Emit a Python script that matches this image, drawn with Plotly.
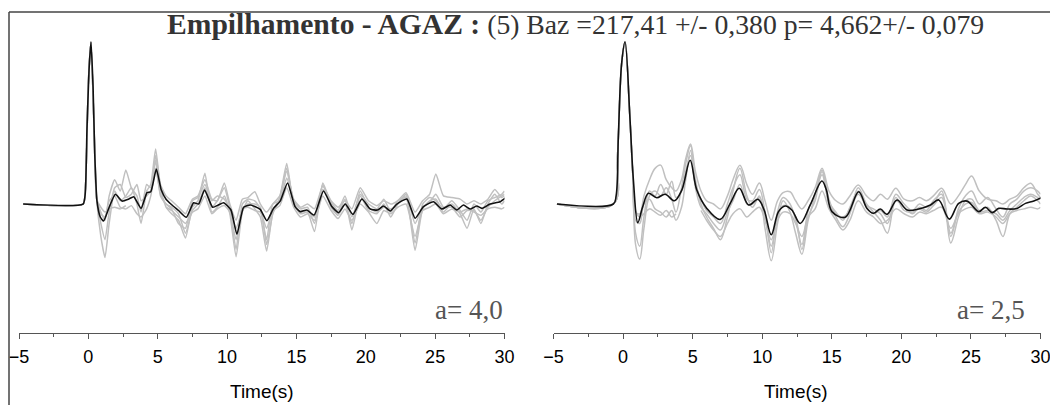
import plotly.graph_objects as go

# ---------------- data ----------------
# Left panel (a = 4.0) stacked receiver function (black)
t_left_stack = [-4.7, -0.38, -0.22, -0.1, 0.05, 0.19, 0.34, 0.46, 0.62, 0.86,
                1.1, 1.5, 1.95, 2.43, 2.9, 3.27, 3.8, 4.23, 4.5, 4.9,
                5.26, 5.6, 6.03, 6.5, 7.06, 7.59, 7.95, 8.38, 8.96, 9.4,
                9.75, 10.28, 10.71, 11.19, 11.67, 12.0, 12.39, 12.87, 13.35, 13.83,
                14.36, 14.9, 15.27, 15.75, 16.28, 16.95, 17.55, 18.04, 18.52, 19.07,
                19.72, 20.32, 20.85, 21.28, 21.76, 22.24, 22.96, 23.56, 24.16, 24.88,
                25.48, 26.08, 26.56, 27.04, 27.52, 28.0, 28.37, 28.96, 29.68, 30.1]
a_left_stack = [0, 0, 0.07, 0.46, 0.83, 1.0, 0.72, 0.31, 0.02, -0.08,
                -0.105, -0.02, 0.06, 0.018, 0.03, 0.045, -0.027, 0.07, 0.076, 0.216,
                0.086, 0.03, -0.006, -0.04, -0.082, 0.008, 0.0, 0.086, -0.02, -0.005,
                0.008, -0.037, -0.187, -0.02, -0.006, -0.015, -0.033, -0.103, -0.027, 0.018,
                0.13, -0.016, -0.047, -0.037, -0.068, 0.08, -0.016, -0.053, 0.0, -0.064,
                0.031, -0.031, -0.037, -0.012, -0.043, 0.0, 0.031, -0.088, -0.016, 0.014,
                -0.031, -0.006, -0.037, -0.006, -0.031, -0.012, -0.027, 0.0, 0.014, 0.04]

# Right panel (a = 2.5) stacked receiver function (black)
t_right_stack = [-4.75, -0.7, -0.5, -0.34, -0.1, 0.14, 0.5, 0.74, 1.06, 1.4,
                 1.82, 2.42, 3.02, 3.69, 4.22, 4.82, 5.3, 6.02, 6.98, 7.7,
                 8.35, 9.02, 9.69, 10.14, 10.65, 11.17, 11.65, 12.13, 12.73, 13.45,
                 14.29, 14.6, 15.01, 15.97, 16.93, 17.53, 18.0, 18.49, 18.97, 19.69,
                 20.41, 21.24, 22.09, 22.68, 23.45, 24.12, 24.73, 25.56, 26.04, 26.53,
                 27.0, 27.6, 28.32, 28.92, 29.52, 30.07]
a_right_stack = [0, 0, 0.05, 0.415, 0.87, 1.0, 0.52, 0.15, -0.115, -0.02,
                 0.066, 0.039, 0.06, 0.02, 0.086, 0.27, 0.086, -0.027, -0.095, 0.004,
                 0.097, -0.006, 0.029, -0.037, -0.19, -0.047, -0.012, -0.037, -0.12, -0.006,
                 0.142, 0.09, -0.047, -0.082, 0.076, -0.027, -0.057, -0.031, -0.064, 0.025,
                 -0.037, -0.031, -0.006, 0.025, -0.093, 0.004, 0.018, -0.047, -0.02, -0.053,
                 -0.027, -0.031, -0.027, 0.004, 0.018, 0.039]

# Individual receiver functions (grey): shared pre-peak part + post-peak samples
t_left_pre = [-4.7, -0.38, -0.2, 0.0, 0.19, 0.4, 0.6]
a_left_pre = [0, 0, 0.12, 0.75, 1.0, 0.5, 0.03]
t_right_pre = [-4.75, -0.7, -0.4, -0.1, 0.15, 0.45, 0.7]
a_right_pre = [0, 0, 0.3, 0.87, 1.0, 0.6, 0.18]

t_post = [0.9, 1.2, 1.5, 1.9, 2.3, 2.7, 3.1, 3.5, 3.8, 4.2,
          4.5, 4.85, 5.2, 5.6, 6.0, 6.5, 7.0, 7.5, 7.9, 8.4,
          8.9, 9.3, 9.8, 10.2, 10.65, 11.1, 11.5, 12.0, 12.4, 12.85,
          13.3, 13.8, 14.3, 14.8, 15.3, 15.8, 16.3, 16.9, 17.5, 18.0,
          18.5, 19.0, 19.6, 20.2, 20.8, 21.3, 21.8, 22.3, 22.9, 23.55,
          24.1, 24.6, 25.05, 25.6, 26.2, 26.8, 27.3, 27.8, 28.3, 28.8,
          29.3, 29.8, 30.0]

left_rf1 = [-0.20, -0.33, -0.12, 0.08, 0.02, 0.05, 0.10, 0.0, -0.12, 0.08,
            0.12, 0.34, 0.10, -0.02, -0.06, -0.10, -0.21, -0.02, 0.02, 0.19,
            -0.05, -0.02, 0.05, -0.06, -0.325, -0.05, 0.02, -0.03, -0.08, -0.29,
            -0.05, 0.04, 0.25, 0.0, -0.06, -0.05, -0.17, 0.13, 0.0, -0.06,
            0.03, -0.16, 0.05, -0.04, -0.06, 0.0, -0.08, 0.0, 0.05, -0.285,
            -0.03, 0.02, 0.03, -0.05, 0.0, -0.06, -0.15, -0.03, -0.12, 0.0,
            0.06, 0.0, 0.02]
left_rf2 = [-0.05, -0.10, 0.05, 0.15, 0.08, 0.21, 0.10, 0.05, -0.05, 0.12,
            0.10, 0.30, 0.12, 0.05, 0.02, -0.02, -0.06, 0.03, 0.05, 0.15,
            0.03, 0.02, 0.13, 0.0, -0.10, 0.03, 0.04, 0.076, 0.0, -0.05,
            0.0, 0.05, 0.20, 0.03, -0.02, 0.0, -0.03, 0.11, 0.02, -0.02,
            0.02, -0.03, 0.10, 0.02, -0.01, 0.02, 0.0, 0.02, 0.07, -0.05,
            0.02, 0.06, 0.185, 0.05, 0.04, 0.03, 0.0, 0.02, 0.0, 0.03,
            0.09, 0.04, 0.05]
left_rf3 = [-0.02, -0.05, -0.03, -0.02, -0.03, -0.01, None, None, None, None,
            None, None, None, -0.02, -0.04, -0.08, -0.12, -0.05, -0.03, 0.05,
            -0.06, -0.03, -0.01, -0.05, -0.22, -0.03, -0.02, -0.04, -0.05, -0.15,
            -0.04, -0.01, 0.10, -0.02, -0.08, -0.06, -0.10, 0.05, -0.04, -0.09,
            -0.03, -0.10, 0.0, -0.05, -0.12, -0.04, -0.06, -0.02, 0.0, -0.20,
            -0.04, -0.02, 0.0, -0.06, -0.03, -0.05, -0.03, -0.05, -0.07, -0.03,
            -0.02, -0.03, -0.02]
left_rf4 = [-0.12, -0.22, -0.05, 0.10, 0.12, 0.04, 0.06, 0.12, 0.02, 0.05,
            0.08, 0.27, 0.05, 0.0, -0.03, -0.12, -0.15, 0.02, 0.04, 0.12,
            0.02, 0.05, 0.03, -0.04, -0.28, 0.0, 0.03, 0.02, -0.03, -0.22,
            0.0, 0.02, 0.16, 0.02, -0.03, -0.02, -0.12, 0.09, 0.01, -0.04,
            0.05, -0.08, 0.06, 0.0, -0.03, 0.03, -0.05, 0.02, 0.04, -0.24,
            0.0, 0.04, 0.02, -0.03, 0.02, -0.04, -0.10, 0.0, -0.05, 0.02,
            0.04, 0.06, 0.08]
left_rf5 = [-0.06, -0.08, 0.02, 0.05, -0.02, -0.03, -0.01, -0.06, -0.08, -0.03,
            0.05, 0.22, 0.06, 0.0, -0.02, -0.06, -0.18, -0.04, 0.0, 0.10,
            -0.02, 0.02, 0.10, -0.02, -0.15, -0.04, 0.0, 0.0, -0.02, -0.25,
            -0.06, 0.03, 0.22, 0.01, -0.05, -0.04, -0.08, 0.12, -0.02, -0.07,
            0.0, -0.12, 0.08, -0.02, -0.05, -0.02, -0.03, 0.0, 0.06, -0.12,
            -0.02, 0.01, 0.06, -0.02, -0.02, -0.08, -0.04, -0.04, -0.10, -0.02,
            0.02, 0.05, 0.06]

right_rf1 = [-0.25, -0.34, -0.15, 0.05, 0.08, 0.05, 0.10, 0.03, -0.05, 0.10,
             0.25, 0.36, 0.15, 0.0, -0.08, -0.15, -0.22, -0.08, 0.08, 0.22,
             0.05, -0.02, 0.05, -0.15, -0.35, -0.12, 0.02, -0.05, -0.18, -0.31,
             -0.10, 0.05, 0.21, 0.03, -0.08, -0.14, -0.06, 0.10, 0.0, -0.05,
             -0.10, -0.18, 0.02, -0.02, -0.06, -0.02, -0.04, 0.02, 0.06, -0.24,
             -0.08, 0.02, 0.03, -0.04, -0.02, -0.10, -0.20, -0.06, -0.02, 0.02,
             0.05, 0.02, 0.0]
right_rf2 = [-0.05, -0.06, 0.05, 0.15, 0.22, 0.24, 0.15, 0.10, 0.08, 0.15,
             0.28, 0.37, 0.20, 0.08, 0.02, 0.0, -0.03, 0.05, 0.15, 0.24,
             0.12, 0.06, 0.13, 0.02, -0.10, 0.02, 0.07, 0.076, 0.02, -0.03,
             0.02, 0.10, 0.22, 0.08, 0.02, 0.0, 0.05, 0.117, 0.05, 0.02,
             0.06, 0.03, 0.097, 0.03, 0.02, 0.04, 0.02, 0.05, 0.097, 0.0,
             0.05, 0.12, 0.173, 0.08, 0.03, 0.02, 0.0, 0.03, 0.05, 0.10,
             0.128, 0.06, 0.04]
right_rf3 = [-0.04, -0.08, -0.06, -0.03, -0.05, -0.07, -0.04, -0.08, -0.06, None,
             None, None, None, -0.04, -0.10, -0.16, -0.20, -0.12, -0.06, -0.03,
             -0.08, -0.05, -0.02, -0.10, -0.22, -0.10, -0.05, -0.06, -0.12, -0.20,
             -0.08, -0.03, 0.08, -0.03, -0.10, -0.16, -0.10, 0.02, -0.05, -0.08,
             -0.12, -0.10, -0.03, -0.06, -0.08, -0.05, -0.06, -0.04, -0.02, -0.15,
             -0.06, -0.03, -0.02, -0.06, -0.05, -0.08, -0.12, -0.06, -0.04, -0.03,
             -0.02, -0.03, -0.02]
right_rf4 = [-0.18, -0.26, -0.08, 0.08, 0.05, 0.12, 0.06, 0.14, 0.04, 0.08,
             0.20, 0.30, 0.12, 0.03, -0.04, -0.08, -0.12, 0.0, 0.10, 0.18,
             0.03, 0.02, 0.09, -0.05, -0.30, -0.05, 0.04, 0.0, -0.10, -0.25,
             -0.04, 0.06, 0.18, 0.01, -0.05, -0.10, -0.02, 0.08, -0.02, -0.06,
             -0.04, -0.08, 0.06, 0.0, -0.04, 0.0, -0.02, 0.0, 0.08, -0.20,
             -0.03, 0.05, 0.08, 0.0, 0.04, -0.03, -0.08, 0.0, 0.03, 0.08,
             0.10, 0.08, 0.06]
right_rf5 = [-0.10, -0.12, 0.0, 0.03, -0.03, -0.05, -0.08, -0.04, -0.10, -0.02,
             0.15, 0.33, 0.10, -0.02, -0.06, -0.12, -0.16, -0.05, 0.02, 0.12,
             0.0, 0.0, 0.04, -0.08, -0.26, -0.08, -0.01, -0.02, -0.08, -0.28,
             -0.08, 0.02, 0.20, 0.0, -0.06, -0.08, -0.04, 0.06, -0.01, -0.03,
             -0.06, -0.12, 0.04, -0.04, -0.05, -0.03, -0.05, -0.01, 0.04, -0.18,
             -0.05, 0.0, 0.01, -0.05, -0.04, -0.06, -0.10, -0.04, 0.0, 0.04,
             0.06, 0.04, 0.03]

left_rfs = [left_rf1, left_rf2, left_rf3, left_rf4, left_rf5]
right_rfs = [right_rf1, right_rf2, right_rf3, right_rf4, right_rf5]

x_ticks = [-5, 0, 5, 10, 15, 20, 25, 30]
title_bold = "Empilhamento - AGAZ :"
title_rest = " (5) Baz =217,41 +/- 0,380 p= 4,662+/- 0,079"
panel_labels = ["a= 4,0", "a= 2,5"]
x_title = "Time(s)"

# ---------------- figure ----------------
W, H = 1050, 405
GREY = "rgb(192,192,192)"
BLACK = "#111111"

fig = go.Figure()

for rf in left_rfs:
    fig.add_trace(go.Scatter(x=t_left_pre + t_post, y=a_left_pre + rf, mode="lines",
                             line=dict(color=GREY, width=1.5, shape="spline", smoothing=0.5),
                             connectgaps=False, xaxis="x", yaxis="y", showlegend=False,
                             hoverinfo="skip"))
fig.add_trace(go.Scatter(x=t_left_stack, y=a_left_stack, mode="lines",
                         line=dict(color=BLACK, width=1.6, shape="spline", smoothing=0.5),
                         xaxis="x", yaxis="y", showlegend=False))

for rf in right_rfs:
    fig.add_trace(go.Scatter(x=t_right_pre + t_post, y=a_right_pre + rf, mode="lines",
                             line=dict(color=GREY, width=1.5, shape="spline", smoothing=1.0),
                             connectgaps=False, xaxis="x2", yaxis="y2", showlegend=False,
                             hoverinfo="skip"))
fig.add_trace(go.Scatter(x=t_right_stack, y=a_right_stack, mode="lines",
                         line=dict(color=BLACK, width=1.6, shape="spline", smoothing=1.0),
                         xaxis="x2", yaxis="y2", showlegend=False))

y_bottom_px, y_top_px = 333, 12
y_dom = [(H - y_bottom_px) / H, (H - y_top_px) / H]
y_rng = [-0.796, 1.185]

xaxis_common = dict(range=[-5, 30], tickvals=x_ticks, showline=True, linecolor="#555555",
                    linewidth=1, ticks="outside", ticklen=5, tickcolor="#555555",
                    showgrid=False, zeroline=False, automargin=False,
                    ticklabeloverflow="allow", ticklabelstandoff=2,
                    tickfont=dict(family="Liberation Sans, Arial", size=18, color="#000000"),
                    minor=dict(dtick=2.5, tick0=-5, ticks="outside", ticklen=3,
                               tickcolor="#555555", showgrid=False),
                    fixedrange=True)
yaxis_common = dict(range=y_rng, domain=y_dom, visible=False, fixedrange=True,
                    automargin=False)

fig.update_layout(
    template="none",
    width=W, height=H,
    margin=dict(l=0, r=0, t=0, b=0, autoexpand=False),
    paper_bgcolor="white", plot_bgcolor="white",
    xaxis=dict(domain=[19 / W, 504.5 / W], anchor="y", **xaxis_common),
    xaxis2=dict(domain=[553.5 / W, 1040.5 / W], anchor="y2", **xaxis_common),
    yaxis=dict(anchor="x", **yaxis_common),
    yaxis2=dict(anchor="x2", **yaxis_common),
    showlegend=False,
)

# frame lines (top and left border of the original figure)
fig.add_shape(type="line", xref="paper", yref="paper", x0=9 / W, x1=1.0,
              y0=(H - 12) / H, y1=(H - 12) / H, line=dict(color="#444444", width=1.5))
fig.add_shape(type="line", xref="paper", yref="paper", x0=9 / W, x1=9 / W,
              y0=0, y1=(H - 12) / H, line=dict(color="#444444", width=1.5))

# title
fig.add_annotation(xref="paper", yref="paper", x=165 / W, y=(H - 24) / H,
                   xanchor="left", yanchor="middle", showarrow=False,
                   text="<b><span style='font-size:29.6px'>" + title_bold + "</span></b>" + title_rest,
                   font=dict(family="Liberation Serif, Times New Roman", size=27.7, color="#333333"))

# panel labels
for xr, lab in zip([505 / W, 1027 / W], panel_labels):
    fig.add_annotation(xref="paper", yref="paper", x=xr, y=(H - 310) / H,
                       xanchor="right", yanchor="middle", showarrow=False, text=lab,
                       font=dict(family="Liberation Serif, Times New Roman", size=27, color="#555555"))

# x titles
for xc in [262 / W, 796 / W]:
    fig.add_annotation(xref="paper", yref="paper", x=xc, y=(H - 391) / H,
                       xanchor="center", yanchor="middle", showarrow=False, text=x_title,
                       font=dict(family="Liberation Sans, Arial", size=19, color="#000000"))

fig.write_html("out.html")
